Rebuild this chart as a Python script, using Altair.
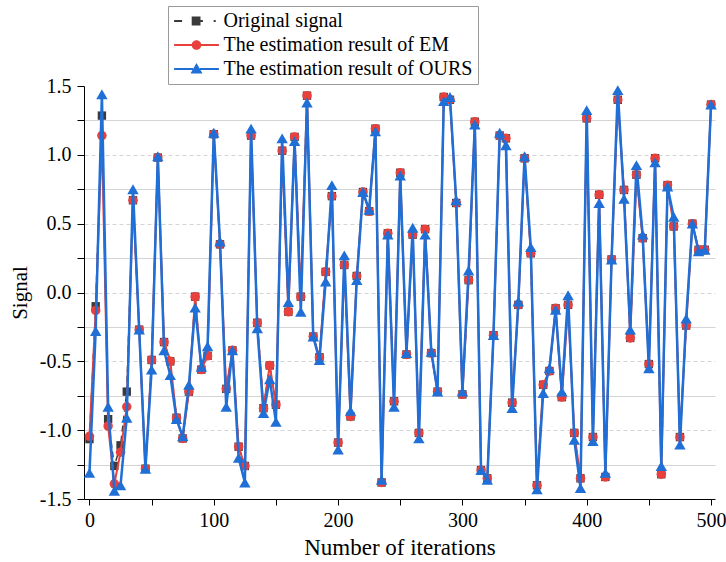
import altair as alt
import pandas as pd

iterations = list(range(0, 505, 5))

original = [-1.065, -0.10, 1.285, -0.92, -1.26, -1.11, -0.72, 0.67, -0.27, -1.28,
            -0.49, 0.98, -0.36, -0.50, -0.91, -1.06, -0.72, -0.03, -0.56, -0.46,
            1.15, 0.35, -0.70, -0.42, -1.12, -1.26, 1.14, -0.22, -0.84, -0.53,
            -0.815, 1.03, -0.14, 1.13, -0.03, 1.43, -0.32, -0.47, 0.15, 0.70,
            -1.09, 0.20, -0.90, 0.12, 0.73, 0.59, 1.19, -1.38, 0.43, -0.79,
            0.87, -0.45, 0.42, -1.02, 0.46, -0.44, -0.72, 1.42, 1.40, 0.65,
            -0.74, 0.09, 1.24, -1.29, -1.35, -0.31, 1.14, 1.12, -0.80, -0.09,
            0.975, 0.285, -1.40, -0.67, -0.57, -0.115, -0.76, -0.09, -1.02, -1.35,
            1.265, -1.05, 0.71, -1.34, 0.24, 1.40, 0.745, -0.33, 0.855, 0.395,
            -0.52, 0.975, -1.32, 0.78, 0.48, -1.05, -0.24, 0.50, 0.31, 0.31,
            1.365]

em = [-1.045, -0.13, 1.14, -0.97, -1.39, -1.16, -0.83, 0.67, -0.27, -1.28,
      -0.49, 0.98, -0.36, -0.50, -0.91, -1.06, -0.72, -0.03, -0.56, -0.46,
      1.15, 0.35, -0.70, -0.42, -1.12, -1.26, 1.14, -0.22, -0.84, -0.53,
      -0.815, 1.03, -0.14, 1.13, -0.03, 1.43, -0.32, -0.47, 0.15, 0.70,
      -1.09, 0.20, -0.90, 0.12, 0.73, 0.59, 1.19, -1.38, 0.43, -0.79,
      0.87, -0.45, 0.42, -1.02, 0.46, -0.44, -0.72, 1.42, 1.40, 0.65,
      -0.74, 0.09, 1.24, -1.29, -1.35, -0.31, 1.14, 1.12, -0.80, -0.09,
      0.975, 0.285, -1.40, -0.67, -0.57, -0.115, -0.76, -0.09, -1.02, -1.35,
      1.265, -1.05, 0.71, -1.34, 0.24, 1.40, 0.745, -0.33, 0.855, 0.395,
      -0.52, 0.975, -1.32, 0.78, 0.48, -1.05, -0.24, 0.50, 0.31, 0.31,
      1.365]

ours = [-1.31, -0.28, 1.44, -0.83, -1.44, -1.40, -0.91, 0.75, -0.27, -1.28,
        -0.56, 0.99, -0.42, -0.60, -0.92, -1.045, -0.67, -0.11, -0.54, -0.39,
        1.16, 0.37, -0.83, -0.42, -1.20, -1.38, 1.19, -0.26, -0.875, -0.63,
        -0.94, 1.12, -0.07, 1.10, -0.14, 1.38, -0.32, -0.49, 0.08, 0.78,
        -1.14, 0.27, -0.86, 0.09, 0.73, 0.60, 1.17, -1.36, 0.42, -0.83,
        0.85, -0.44, 0.47, -1.06, 0.42, -0.43, -0.72, 1.39, 1.42, 0.67,
        -0.72, 0.16, 1.22, -1.29, -1.36, -0.31, 1.16, 1.07, -0.84, -0.065,
        0.99, 0.33, -1.43, -0.73, -0.55, -0.125, -0.72, -0.02, -1.07, -1.42,
        1.325, -1.08, 0.65, -1.31, 0.24, 1.47, 0.68, -0.27, 0.925, 0.42,
        -0.55, 0.945, -1.26, 0.77, 0.55, -1.105, -0.19, 0.50, 0.30, 0.31,
        1.365]

series_names = ["Original signal", "The estimation result of EM", "The estimation result of OURS"]
y_ticks = [-1.5, -1.25, -1.0, -0.75, -0.5, -0.25, 0.0, 0.25, 0.5, 0.75, 1.0, 1.25, 1.5]
x_ticks = [0, 50, 100, 150, 200, 250, 300, 350, 400, 450, 500]

GRAY = "#3a3a3a"
RED = "#e8403c"
BLUE = "#1f6fd6"
FONT = "Liberation Serif"

rows = []
for name, vals in zip(series_names, [original, em, ours]):
    for it, v in zip(iterations, vals):
        rows.append({"series": name, "iteration": it, "value": v})
df = pd.DataFrame(rows)

x_enc = alt.X("iteration:Q",
              scale=alt.Scale(domain=[-4.4, 503.2], nice=False, zero=False),
              axis=alt.Axis(values=x_ticks, title="Number of iterations",
                            labelExpr="datum.value % 100 == 0 ? datum.label : ''",
                            grid=False, tickSize=6, labelPadding=5,
                            labelFontSize=20, titleFontSize=23,
                            titlePadding=6))
y_enc = alt.Y("value:Q",
              scale=alt.Scale(domain=[-1.5, 1.5], nice=False, zero=False),
              axis=alt.Axis(values=y_ticks, title="Signal",
                            labelExpr="datum.value % 0.5 == 0 ? (datum.value < 0 ? '-' : '') + format(abs(datum.value), '.1f') : ''",
                            grid=True,
                            gridDash={"condition": {"test": "datum.value % 0.5 == 0", "value": [4, 3]}, "value": []},
                            gridColor={"condition": {"test": "abs(datum.value) == 1.5", "value": "transparent"},
                                       "value": "#d4d4d4"},
                            labelFontSize=20, titleFontSize=21,
                            tickSize=7, labelPadding=6, titlePadding=9))

base = alt.Chart(df)

def series_layers(name, color, width, dash, shape, size):
    d = base.transform_filter(alt.datum.series == name)
    line_kwargs = dict(color=color, strokeWidth=width)
    if dash:
        line_kwargs["strokeDash"] = dash
    line = d.mark_line(**line_kwargs).encode(x=x_enc, y=y_enc)
    pts = d.mark_point(shape=shape, filled=True, color=color, size=size, opacity=1).encode(x=x_enc, y=y_enc)
    return [line, pts]

layers = []
layers += series_layers(series_names[0], GRAY, 1.5, [6, 4], "square", 70)
layers += series_layers(series_names[1], RED, 2, None, "circle", 90)
layers += series_layers(series_names[2], BLUE, 2.5, None, "triangle-up", 130)

# legend symbols: line + marker paths (unit = 8 px)
sym_orig = ("M-2.8,-0.13H-1.8V0.13H-2.8Z "
            "M-0.6,-0.55H0.5V0.55H-0.6Z "
            "M0.5,-0.13H0.8V0.13H0.5Z "
            "M2.15,-0.13H2.4V0.13H2.15Z")
sym_em = ("M-2.8,-0.13H-0.5V0.13H-2.8Z "
          "M0.5,-0.13H2.8V0.13H0.5Z "
          "M-0.6,0A0.6,0.6 0 1,1 0.6,0A0.6,0.6 0 1,1 -0.6,0Z")
sym_ours = ("M-2.8,-0.13H-0.42V0.13H-2.8Z "
            "M0.42,-0.13H2.8V0.13H0.42Z "
            "M0,-0.75L0.75,0.55L-0.75,0.55Z")

leg = dict(title=None, orient="none", legendX=84, legendY=-80,
           direction="vertical", fillColor="white",
           strokeColor="#9a9a9a", padding=5,
           labelFont=FONT, labelFontSize=20, labelColor="black",
           symbolSize=256, symbolOffset=13.5, labelOffset=17,
           rowPadding=4, labelLimit=400, symbolStrokeWidth=0,
           symbolOpacity=1)

legend_layer = base.mark_point(filled=True, opacity=0, size=256).encode(
    x=x_enc, y=y_enc,
    color=alt.Color("series:N",
                    scale=alt.Scale(domain=series_names, range=[GRAY, RED, BLUE]),
                    legend=alt.Legend(**leg)),
    shape=alt.Shape("series:N",
                    scale=alt.Scale(domain=series_names, range=[sym_orig, sym_em, sym_ours]),
                    legend=alt.Legend(**leg)),
)

chart = alt.layer(*layers, legend_layer).properties(
    width=631, height=413,
    autosize=alt.AutoSizeParams(type="none"),
    padding={"left": 84, "top": 86, "right": 11, "bottom": 63},
    background="white",
).configure_view(stroke=None).configure_axis(
    labelFont=FONT, titleFont=FONT,
    titleFontWeight="normal", labelColor="black", titleColor="black",
    domainColor="black", tickColor="black", domainWidth=1, tickWidth=1,
)

chart.save("out.html", embed_options={"renderer": "svg", "actions": False})
